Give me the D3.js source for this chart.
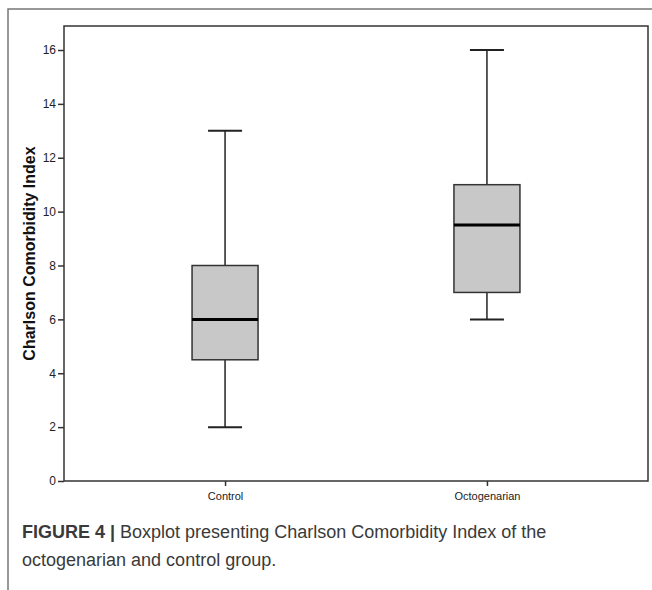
<!DOCTYPE html>
<html>
<head>
<meta charset="utf-8">
<script src="https://cdn.jsdelivr.net/npm/d3@7"></script>
<style>
  body { margin: 0; background: #fff; }
  svg { display: block; }
</style>
</head>
<body>
<script>
// data
var groups = ["Control", "Octogenarian"];
var whiskerLow = [2, 6];
var q1 = [4.5, 7];
var median = [6, 9.5];
var q3 = [8, 11];
var whiskerHigh = [13, 16];
var yTicks = [0, 2, 4, 6, 8, 10, 12, 14, 16];

var W = 652, H = 590;
var plot = { left: 64, top: 26, right: 648, bottom: 481 };

var svg = d3.select("body").append("svg")
  .attr("width", W)
  .attr("height", H);

// outer figure frame (top + left edges only)
svg.append("path")
  .attr("d", "M8,590V9H652")
  .attr("fill", "none")
  .attr("stroke", "#777")
  .attr("stroke-width", 1.5);

var y = d3.scaleLinear().domain([0, 16]).range([481, 50]);
var x = d3.scalePoint().domain(groups).range([plot.left, plot.right]).padding(0.615);

// plot frame
svg.append("rect")
  .attr("x", plot.left)
  .attr("y", plot.top)
  .attr("width", plot.right - plot.left)
  .attr("height", plot.bottom - plot.top)
  .attr("fill", "none")
  .attr("stroke", "#333")
  .attr("stroke-width", 1.5);

var yAxis = svg.append("g")
  .attr("transform", "translate(" + plot.left + ",0)")
  .call(d3.axisLeft(y).tickValues(yTicks).tickSize(6).tickPadding(2).tickFormat(d3.format("d")));
yAxis.select(".domain").remove();
yAxis.selectAll("line").attr("stroke", "#333").attr("stroke-width", 1.5);
yAxis.selectAll("text")
  .attr("fill", "#222")
  .style("font-family", "Liberation Sans, Arial, sans-serif")
  .style("font-size", "12px");

var xAxis = svg.append("g")
  .attr("transform", "translate(0," + plot.bottom + ")")
  .call(d3.axisBottom(x).tickSize(5).tickPadding(6));
xAxis.select(".domain").remove();
xAxis.selectAll("line").attr("stroke", "#333").attr("stroke-width", 1.5);
xAxis.selectAll("text")
  .attr("fill", "#222")
  .style("font-family", "Liberation Sans, Arial, sans-serif")
  .style("font-size", "11px");

// y title
svg.append("text")
  .attr("transform", "translate(35," + ((plot.top + plot.bottom) / 2) + ") rotate(-90)")
  .attr("text-anchor", "middle")
  .style("font-family", "Liberation Sans, Arial, sans-serif")
  .style("font-size", "16px")
  .style("font-weight", "bold")
  .attr("fill", "#111")
  .text("Charlson Comorbidity Index");

// boxes
var boxHalf = 33, capHalf = 17;
var g = svg.selectAll(".box").data(groups).enter().append("g").attr("class", "box");

g.append("line")
  .attr("x1", function(d) { return x(d); })
  .attr("x2", function(d) { return x(d); })
  .attr("y1", function(d, i) { return y(whiskerHigh[i]); })
  .attr("y2", function(d, i) { return y(q3[i]); })
  .attr("stroke", "#222").attr("stroke-width", 1.5);
g.append("line")
  .attr("x1", function(d) { return x(d); })
  .attr("x2", function(d) { return x(d); })
  .attr("y1", function(d, i) { return y(q1[i]); })
  .attr("y2", function(d, i) { return y(whiskerLow[i]); })
  .attr("stroke", "#222").attr("stroke-width", 1.5);
[whiskerHigh, whiskerLow].forEach(function(arr) {
  g.append("line")
    .attr("x1", function(d) { return x(d) - capHalf; })
    .attr("x2", function(d) { return x(d) + capHalf; })
    .attr("y1", function(d, i) { return y(arr[i]); })
    .attr("y2", function(d, i) { return y(arr[i]); })
    .attr("stroke", "#222").attr("stroke-width", 2);
});
g.append("rect")
  .attr("x", function(d) { return x(d) - boxHalf; })
  .attr("y", function(d, i) { return y(q3[i]); })
  .attr("width", boxHalf * 2)
  .attr("height", function(d, i) { return y(q1[i]) - y(q3[i]); })
  .attr("fill", "#c8c8c8")
  .attr("stroke", "#333")
  .attr("stroke-width", 1.5);
g.append("line")
  .attr("x1", function(d) { return x(d) - boxHalf; })
  .attr("x2", function(d) { return x(d) + boxHalf; })
  .attr("y1", function(d, i) { return y(median[i]); })
  .attr("y2", function(d, i) { return y(median[i]); })
  .attr("stroke", "#000").attr("stroke-width", 3);

// caption
var cap = svg.append("text")
  .attr("x", 22).attr("y", 538)
  .style("font-family", "Liberation Sans, Arial, sans-serif")
  .style("font-size", "18px")
  .attr("fill", "#3a3a3a");
cap.append("tspan").style("font-weight", "bold").text("FIGURE 4 | ");
cap.append("tspan").text("Boxplot presenting Charlson Comorbidity Index of the");
svg.append("text")
  .attr("x", 22).attr("y", 566)
  .style("font-family", "Liberation Sans, Arial, sans-serif")
  .style("font-size", "18px")
  .attr("fill", "#3a3a3a")
  .text("octogenarian and control group.");
</script>
</body>
</html>
